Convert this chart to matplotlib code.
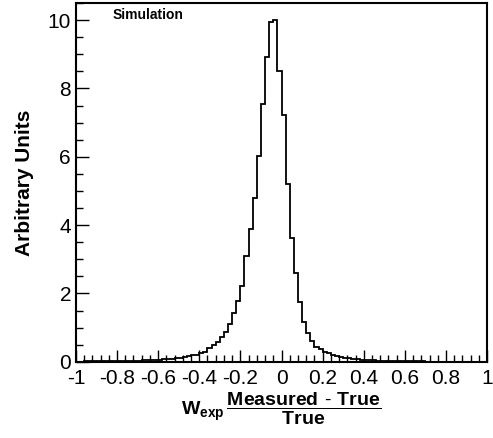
import matplotlib
matplotlib.use("Agg")
import matplotlib.pyplot as plt
import numpy as np
from matplotlib.ticker import MultipleLocator

plt.rcParams['font.family'] = ['Liberation Sans', 'DejaVu Sans']
plt.rcParams['mathtext.fontset'] = 'custom'
plt.rcParams['mathtext.bf'] = 'Liberation Sans:bold'
plt.rcParams['mathtext.rm'] = 'Liberation Sans'

edges = np.linspace(-1, 1, 101)
# bin contents, left tail -> right tail (bin width 0.02)
left_tail = [0.0, 0.0, 0.01, 0.01, 0.01, 0.01, 0.01, 0.01, 0.01, 0.02,
             0.02, 0.02, 0.02, 0.03, 0.03, 0.03, 0.04, 0.04, 0.05, 0.05,
             0.06, 0.07, 0.08, 0.09, 0.11, 0.12, 0.14, 0.16, 0.19, 0.21,
             0.26, 0.30, 0.40, 0.50]
core = [0.57, 0.73, 0.88, 1.12, 1.44, 1.79, 2.21, 3.10, 3.88, 4.78,
        6.03, 7.54, 8.93, 9.95, 10.0, 8.52, 7.22, 5.19, 3.61, 2.59,
        1.74, 1.17, 0.85, 0.61, 0.44]
right_tail = [0.36, 0.30, 0.25, 0.21, 0.17, 0.14, 0.12, 0.10, 0.08, 0.07,
              0.06, 0.05, 0.04, 0.04, 0.03, 0.03, 0.02, 0.02, 0.02, 0.01,
              0.01, 0.01, 0.01, 0.01, 0.01, 0.01, 0.0, 0.0, 0.0, 0.0,
              0.0, 0.0, 0.0, 0.0, 0.0, 0.0, 0.0, 0.0, 0.0, 0.0, 0.0]
counts = np.array(left_tail + core + right_tail)

fig = plt.figure(figsize=(4.93, 4.38), dpi=100)
ax = fig.add_axes([0.154, 0.174, 0.834, 0.819])
ax.stairs(counts, edges, color='black', lw=1.3)
ax.set_xlim(-1, 1)
ax.set_ylim(0, 10.5)

ax.xaxis.set_minor_locator(MultipleLocator(0.04))
ax.yaxis.set_major_locator(MultipleLocator(2))
ax.yaxis.set_minor_locator(MultipleLocator(0.5))
ax.set_xticks(np.arange(-1, 1.01, 0.2))
ax.set_xticklabels(['-1', '-0.8', '-0.6', '-0.4', '-0.2', '0', '0.2', '0.4', '0.6', '0.8', '1'])
ax.tick_params(which='both', direction='in', labelsize=15, top=False, right=False)
ax.tick_params(which='major', length=9, width=1)
ax.tick_params(which='minor', length=5, width=1)
ax.tick_params(axis='x', pad=5)
for s in ax.spines.values():
    s.set_linewidth(1.5)

ax.set_ylabel('Arbitrary Units', fontsize=15, fontweight='bold', labelpad=10)
ax.set_xlabel(r'$\mathbf{W_{exp}\,\dfrac{Measured\ \text{-}\ True}{True}}$', fontsize=14, labelpad=2)
ax.text(0.09, 0.985, 'Simulation', transform=ax.transAxes, fontsize=10,
        fontweight='bold', va='top')

fig.savefig('out.png', dpi=100)
